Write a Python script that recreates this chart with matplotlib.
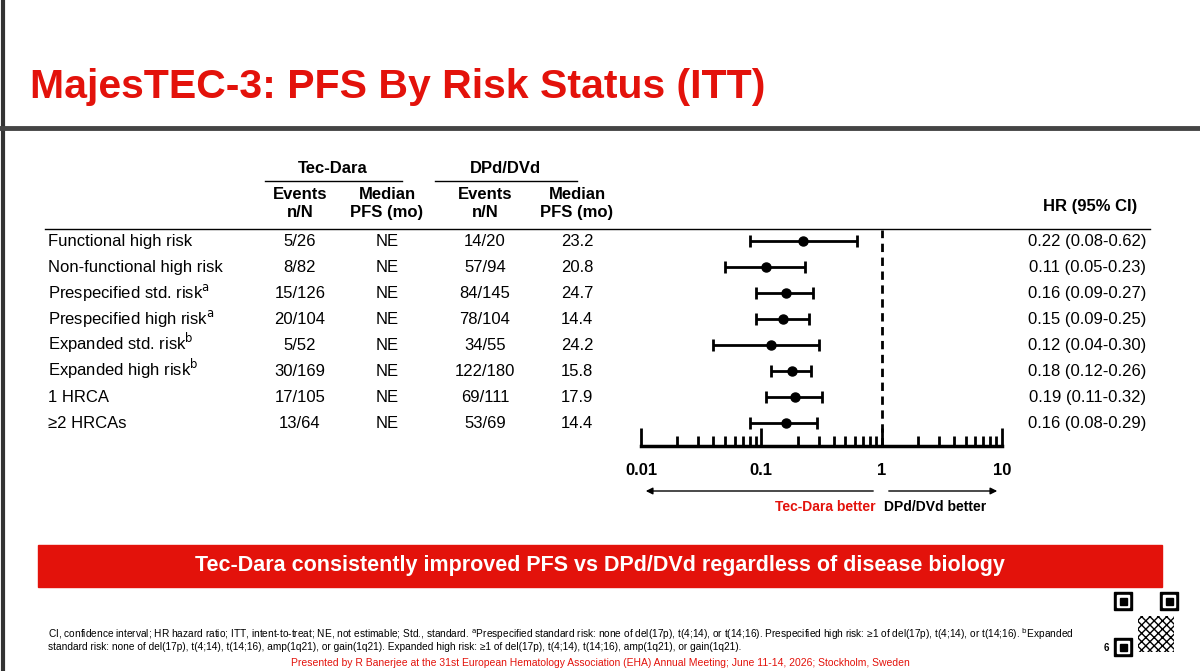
import matplotlib.pyplot as plt
import matplotlib.ticker as mticker
from matplotlib.patches import Rectangle, FancyArrowPatch

plt.rcParams['font.family'] = ['Liberation Sans', 'DejaVu Sans']

W, H = 1200, 671
RED = '#e3120b'

rows = [
    # label, tec events, tec pfs, dpd events, dpd pfs, hr, lo, hi
    ("Functional high risk", "5/26", "NE", "14/20", "23.2", 0.22, 0.08, 0.62),
    ("Non-functional high risk", "8/82", "NE", "57/94", "20.8", 0.11, 0.05, 0.23),
    ("Prespecified std. risk$^{\\mathrm{a}}$", "15/126", "NE", "84/145", "24.7", 0.16, 0.09, 0.27),
    ("Prespecified high risk$^{\\mathrm{a}}$", "20/104", "NE", "78/104", "14.4", 0.15, 0.09, 0.25),
    ("Expanded std. risk$^{\\mathrm{b}}$", "5/52", "NE", "34/55", "24.2", 0.12, 0.04, 0.30),
    ("Expanded high risk$^{\\mathrm{b}}$", "30/169", "NE", "122/180", "15.8", 0.18, 0.12, 0.26),
    ("1 HRCA", "17/105", "NE", "69/111", "17.9", 0.19, 0.11, 0.32),
    ("\u22652 HRCAs", "13/64", "NE", "53/69", "14.4", 0.16, 0.08, 0.29),
]

fig = plt.figure(figsize=(12, 6.71), dpi=100)

def px(x, y):
    return x / W, 1 - y / H

def txt(x, y, s, **kw):
    fx, fy = px(x, y)
    fig.text(fx, fy, s, **kw)

def hline(x0, x1, y, **kw):
    fig.add_artist(plt.Line2D([x0 / W, x1 / W], [1 - y / H] * 2, **kw))

# page frame
fig.add_artist(plt.Line2D([3 / W] * 2, [0, 1], color='#333333', lw=3))
hline(0, W, 128, color='#444444', lw=3.5)

txt(30, 98, "MajesTEC-3: PFS By Risk Status (ITT)", color=RED, fontsize=29.5,
    fontweight='bold', va='baseline')

# table headers
fs = 12
txt(333, 168, "Tec-Dara", ha='center', va='center', fontsize=fs, fontweight='bold')
txt(505, 168, "DPd/DVd", ha='center', va='center', fontsize=fs, fontweight='bold')
hline(265, 402, 181, color='black', lw=1)
hline(435, 577, 181, color='black', lw=1)
for cx, s in [(300, "Events\nn/N"), (387, "Median\nPFS (mo)"),
              (485, "Events\nn/N"), (577, "Median\nPFS (mo)")]:
    txt(cx, 204, s, ha='center', va='center', fontsize=fs, fontweight='bold', linespacing=1.25)
txt(1090, 207, "HR (95% CI)", ha='center', va='center', fontsize=fs, fontweight='bold')
hline(45, 1150, 229, color='black', lw=1)

y0, dy = 241, 26
for i, r in enumerate(rows):
    y = y0 + i * dy + 5
    txt(48, y, r[0], va='baseline', fontsize=fs)
    for cx, s in zip([300, 387, 485, 577], r[1:5]):
        txt(cx, y, s, ha='center', va='baseline', fontsize=fs)
    txt(1146, y, "%.2f (%.2f-%.2f)" % r[5:8], ha='right', va='baseline', fontsize=fs)

# forest plot
ax_l, ax_r, ax_t, ax_b = 641, 1002, 230, 446
ax = fig.add_axes([ax_l / W, 1 - ax_b / H, (ax_r - ax_l) / W, (ax_b - ax_t) / H])
ax.set_xscale('log')
ax.set_xlim(0.01, 10)
ax.set_ylim((ax_b - y0) / dy, (ax_t - y0) / dy)
ax.patch.set_alpha(0)
for s in ['top', 'left', 'right']:
    ax.spines[s].set_visible(False)
ax.spines['bottom'].set_linewidth(2.5)
ax.set_yticks([])
for i, r in enumerate(rows):
    hr, lo, hi = r[5:8]
    ax.errorbar(hr, i, xerr=[[hr - lo], [hi - hr]], fmt='o', color='black',
                ms=6.5, lw=2, capsize=4.5, capthick=2)
ax.axvline(1, color='black', lw=2, ls=(0, (3, 2)))
ax.xaxis.set_major_locator(mticker.LogLocator(base=10))
ax.xaxis.set_minor_locator(mticker.LogLocator(base=10, subs=range(2, 10)))
ax.xaxis.set_minor_formatter(mticker.NullFormatter())
ax.xaxis.set_major_formatter(mticker.FuncFormatter(lambda v, p: '%g' % v))
ax.tick_params(axis='x', which='major', direction='in', length=13, width=2,
               labelsize=12, pad=12)
ax.tick_params(axis='x', which='minor', direction='in', length=7, width=2)
for lab in ax.get_xticklabels():
    lab.set_fontweight('bold')

# direction arrows
ay = 1 - 491 / H
fig.add_artist(FancyArrowPatch((876 / W, ay), (643 / W, ay), arrowstyle='-|>',
                               mutation_scale=10, color='black', lw=1))
fig.add_artist(FancyArrowPatch((886 / W, ay), (1000 / W, ay), arrowstyle='-|>',
                               mutation_scale=10, color='black', lw=1))
txt(876, 507, "Tec-Dara better", ha='right', va='center', fontsize=10, fontweight='bold', color=RED)
txt(884, 507, "DPd/DVd better", ha='left', va='center', fontsize=10, fontweight='bold')

# banner
bx, by = px(38, 587)
fig.add_artist(Rectangle((bx, by), 1124 / W, 42 / H, color=RED, transform=fig.transFigure))
txt(600, 566, "Tec-Dara consistently improved PFS vs DPd/DVd regardless of disease biology",
    ha='center', va='center', fontsize=15.5, fontweight='bold', color='white')

# footnotes
fn = ['Liberation Sans Narrow', 'Liberation Sans', 'DejaVu Sans']
txt(48, 634, "CI, confidence interval; HR hazard ratio; ITT, intent-to-treat; NE, not estimable; Std., standard. "
    "$^{\\mathrm{a}}$Prespecified standard risk: none of del(17p), t(4;14), or t(14;16). Prespecified high risk: "
    "\u22651 of del(17p), t(4;14), or t(14;16). $^{\\mathrm{b}}$Expanded",
    fontsize=7.3, va='center', family=fn)
txt(48, 647, "standard risk: none of del(17p), t(4;14), t(14;16), amp(1q21), or gain(1q21). Expanded high risk: "
    "\u22651 of del(17p), t(4;14), t(14;16), amp(1q21), or gain(1q21).",
    fontsize=7.3, va='center', family=fn)
txt(600, 663, "Presented by R Banerjee at the 31st European Hematology Association (EHA) Annual Meeting; "
    "June 11-14, 2026; Stockholm, Sweden", ha='center', va='center', fontsize=7.5, color=RED, family=fn)
txt(1106, 648, "6", ha='center', va='center', fontsize=7, fontweight='bold')

# QR code placeholder (finder squares)
qx, qy, qs = 1114, 592, 64
for fx0, fy0 in [(0, 0), (qs - 18, 0), (0, qs - 18)]:
    for size, col in [(18, 'black'), (12, 'white'), (7, 'black')]:
        off = (18 - size) / 2
        x0, y1 = px(qx + fx0 + off, qy + fy0 + off + size)
        fig.add_artist(Rectangle((x0, y1), size / W, size / H, color=col,
                                 transform=fig.transFigure))
x0, y1 = px(qx + 24, qy + qs - 4)
fig.add_artist(Rectangle((x0, y1), 36 / W, 36 / H, facecolor='none', edgecolor='black',
                         hatch='xxxx', lw=0, transform=fig.transFigure))

fig.savefig("out.png", dpi=100)
